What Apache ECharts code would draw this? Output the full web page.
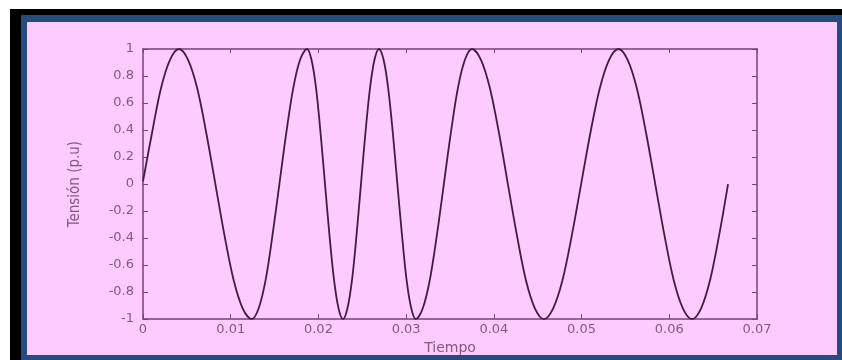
<!DOCTYPE html>
<html>
<head>
<meta charset="utf-8">
<script src="https://cdn.jsdelivr.net/npm/echarts@6/dist/echarts.min.js"></script>
<style>
  html, body { margin: 0; padding: 0; background: #ffffff; }
  #wrap { position: relative; width: 842px; height: 360px; overflow: hidden; background: #ffffff; }
  .b { position: absolute; }
  #chart { position: absolute; left: 0; top: 0; width: 842px; height: 360px; }
</style>
</head>
<body>
<div id="wrap">
  <div class="b" style="left:10px;top:9px;right:0;bottom:0;background:#000000;"></div>
  <div class="b" style="left:21px;top:15px;right:0;bottom:0;background:#244c80;"></div>
  <div class="b" style="left:27px;top:22px;right:5px;bottom:5px;background:#fdcbfd;"></div>
  <div id="chart"></div>
</div>
<script>
// Time (s)
const timeValues = [
  0, 0.00103, 0.00205, 0.00308,
  0.0041, 0.00514, 0.00618, 0.00721, 0.00825, 0.00929, 0.01033, 0.01136,
  0.0124, 0.01319, 0.01398, 0.01476, 0.01555, 0.01634, 0.01713, 0.01791,
  0.0187, 0.01921, 0.01973, 0.02024, 0.02075, 0.02126, 0.02178, 0.02229,
  0.0228, 0.02331, 0.02383, 0.02434, 0.02485, 0.02536, 0.02588, 0.02639,
  0.0269, 0.02743, 0.02795, 0.02848, 0.029, 0.02953, 0.03005, 0.03058,
  0.0311, 0.0319, 0.0327, 0.0335, 0.0343, 0.0351, 0.0359, 0.0367,
  0.0375, 0.03853, 0.03955, 0.04058, 0.0416, 0.04263, 0.04365, 0.04468,
  0.0457, 0.04676, 0.04783, 0.04889, 0.04995, 0.05101, 0.05208, 0.05314,
  0.0542, 0.05525, 0.0563, 0.05735, 0.0584, 0.05945, 0.0605, 0.06155,
  0.0626, 0.06363, 0.06465, 0.06568, 0.0667
];
// Voltage (p.u.)
const voltageValues = [
  0.02, 0.38, 0.71, 0.92,
  1, 0.92, 0.71, 0.38, 0, -0.38, -0.71, -0.92,
  -1, -0.92, -0.71, -0.38, 0, 0.38, 0.71, 0.92,
  1, 0.92, 0.71, 0.38, 0, -0.38, -0.71, -0.92,
  -1, -0.92, -0.71, -0.38, 0, 0.38, 0.71, 0.92,
  1, 0.92, 0.71, 0.38, 0, -0.38, -0.71, -0.92,
  -1, -0.92, -0.71, -0.38, 0, 0.38, 0.71, 0.92,
  1, 0.92, 0.71, 0.38, 0, -0.38, -0.71, -0.92,
  -1, -0.92, -0.71, -0.38, 0, 0.38, 0.71, 0.92,
  1, 0.92, 0.71, 0.38, 0, -0.38, -0.71, -0.92,
  -1, -0.92, -0.71, -0.38, 0
];
const xTickLabels = ['0', '0.01', '0.02', '0.03', '0.04', '0.05', '0.06', '0.07'];
const yTickLabels = ['-1', '-0.8', '-0.6', '-0.4', '-0.2', '0', '0.2', '0.4', '0.6', '0.8', '1'];
const xAxisTitle = 'Tiempo';
const yAxisTitle = 'Tensión (p.u)';

const seriesData = timeValues.map((t, i) => [t, voltageValues[i]]);

const axisColor = '#7a4277';
const labelColor = '#83597f';
const font = 'DejaVu Sans';

const chart = echarts.init(document.getElementById('chart'), null, { renderer: 'canvas' });
chart.setOption({
  animation: false,
  backgroundColor: 'transparent',
  grid: { left: 143, right: 85, top: 49, bottom: 40, containLabel: false },
  xAxis: [
    {
      type: 'value', min: 0, max: 0.07, interval: 0.01, position: 'bottom',
      axisLine: { show: true, onZero: false, lineStyle: { color: axisColor, width: 1.5 } },
      axisTick: { show: true, inside: true, length: 5, lineStyle: { color: axisColor } },
      axisLabel: { margin: 4, color: labelColor, fontFamily: font, fontSize: 13,
        formatter: (v, i) => xTickLabels[i] },
      splitLine: { show: false },
      name: xAxisTitle, nameLocation: 'middle', nameGap: 18,
      nameTextStyle: { color: labelColor, fontFamily: font, fontSize: 14 }
    },
    {
      type: 'value', min: 0, max: 0.07, interval: 0.01, position: 'top',
      axisLine: { show: true, onZero: false, lineStyle: { color: axisColor, width: 1.5 } },
      axisTick: { show: true, inside: true, length: 4, lineStyle: { color: axisColor } },
      axisLabel: { show: false }, splitLine: { show: false }
    }
  ],
  yAxis: [
    {
      type: 'value', min: -1, max: 1, interval: 0.2, position: 'left',
      axisLine: { show: true, onZero: false, lineStyle: { color: axisColor, width: 1.5 } },
      axisTick: { show: true, inside: true, length: 5, lineStyle: { color: axisColor } },
      axisLabel: { margin: 9, color: labelColor, fontFamily: font, fontSize: 13,
        formatter: (v, i) => yTickLabels[i] },
      splitLine: { show: false },
      name: yAxisTitle, nameLocation: 'middle', nameGap: 60, nameRotate: 90,
      nameTextStyle: { color: labelColor, fontFamily: '"Liberation Sans Narrow", "DejaVu Sans Condensed", sans-serif', fontSize: 15 }
    },
    {
      type: 'value', min: -1, max: 1, interval: 0.2, position: 'right',
      axisLine: { show: true, onZero: false, lineStyle: { color: axisColor, width: 1.5 } },
      axisTick: { show: true, inside: true, length: 5, lineStyle: { color: axisColor } },
      axisLabel: { show: false }, splitLine: { show: false }
    }
  ],
  series: [
    {
      type: 'line', xAxisIndex: 0, yAxisIndex: 0, data: seriesData,
      showSymbol: false, smooth: 0.35, clip: false,
      lineStyle: { color: '#431c40', width: 1.8 }
    }
  ]
});
</script>
</body>
</html>
